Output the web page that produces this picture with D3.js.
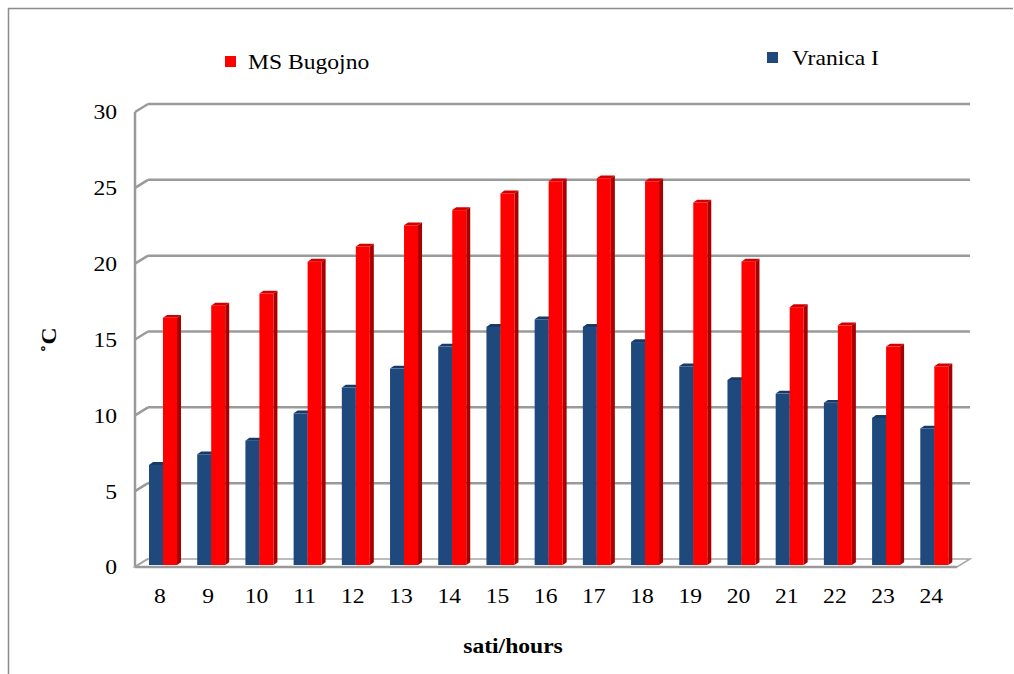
<!DOCTYPE html>
<html>
<head>
<meta charset="utf-8">
<script src="https://cdn.jsdelivr.net/npm/d3@7"></script>
<style>
  html, body { margin: 0; padding: 0; background: #fff; }
  svg { display: block; }
</style>
</head>
<body>
<svg id="chart" width="1014" height="674"></svg>
<script>
// Hourly air temperature (°C) at two stations
const hours = ["8","9","10","11","12","13","14","15","16","17","18","19","20","21","22","23","24"];
const msBugojno = [16.3, 17.1, 17.9, 20.0, 21.0, 22.4, 23.4, 24.5, 25.3, 25.5, 25.3, 23.9, 20.0, 17.0, 15.8, 14.4, 13.1];
const vranica   = [6.6, 7.3, 8.2, 10.0, 11.7, 12.95, 14.4, 15.7, 16.2, 15.7, 14.7, 13.1, 12.2, 11.3, 10.7, 9.7, 9.0];
const yTicks = [0, 5, 10, 15, 20, 25, 30];
const seriesNames = ["MS Bugojno", "Vranica I"];

const svg = d3.select("#chart");
const STRETCH = 1.18;
const SERIF = "'Liberation Serif', 'Times New Roman', Times, serif";

// text helper: glyphs are drawn slightly wide
function label(parent, x, y, str, opts = {}) {
  const g = parent.append("g").attr("transform", `translate(${x},${y}) ${opts.rotate ? `rotate(${opts.rotate})` : ""} scale(${STRETCH},1)`);
  return g.append("text")
    .attr("text-anchor", opts.anchor || "middle")
    .attr("dominant-baseline", "central")
    .attr("font-family", SERIF)
    .style("font-family", SERIF)
    .style("font-size", (opts.size || 20) + "px")
    .style("font-weight", opts.bold ? "bold" : "normal")
    .attr("fill", "#000")
    .text(str);
}

// outer frame
svg.append("path")
  .attr("d", "M8.5,674 L8.5,8.5 L1013,8.5")
  .attr("fill", "none").attr("stroke", "#8c8c8c").attr("stroke-width", 1.5);

// oblique depth of the plot box
const DX = 13, DY = -8;
const yBack = d3.scaleLinear().domain([0, 30]).range([559, 104]);
const xLeft = 135, xRight = 957;

const grid = svg.append("g");
yTicks.forEach(t => {
  const yb = yBack(t);
  if (t > 0) {
    grid.append("line").attr("x1", xLeft + DX).attr("y1", yb).attr("x2", xRight + DX).attr("y2", yb)
      .attr("stroke", "#9a9a9a").attr("stroke-width", 2.5);
  }
  grid.append("line").attr("x1", xLeft).attr("y1", yb - DY).attr("x2", xLeft + DX).attr("y2", yb)
    .attr("stroke", "#9a9a9a").attr("stroke-width", 2.5);
});
// left wall edge
grid.append("line").attr("x1", xLeft).attr("y1", yBack(30) - DY).attr("x2", xLeft).attr("y2", yBack(0) - DY)
  .attr("stroke", "#9a9a9a").attr("stroke-width", 2.5);
// floor
grid.append("path")
  .attr("d", `M${xLeft},${yBack(0) - DY} L${xRight},${yBack(0) - DY} L${xRight + DX},${yBack(0)} L${xLeft + DX},${yBack(0)} Z`)
  .attr("fill", "#ffffff").attr("stroke", "#a6a6a6").attr("stroke-width", 1.5);
grid.append("line").attr("x1", xLeft).attr("y1", yBack(0) - DY).attr("x2", xRight).attr("y2", yBack(0) - DY)
  .attr("stroke", "#9a9a9a").attr("stroke-width", 2.5);

// y tick labels (at front edge)
yTicks.forEach(t => label(svg, 117, yBack(t) - DY + 1, String(t), { anchor: "end" }));

// bars
const x = d3.scaleBand().domain(hours).range([138.9, 958.4]);
const yBar = d3.scaleLinear().domain([0, 30]).range([565, 565 - 455]);
const BW = 14, SX = 4, SY = -2.8;

const colors = {
  red:  { front: "#ff0000", side: "#a80000", top: "#d40000" },
  blue: { front: "#1f497d", side: "#142f52", top: "#183a66" }
};

function bar3d(g, x0, v, c) {
  const y0 = yBar(0), y1 = yBar(v);
  g.append("path").attr("d", `M${x0},${y1} L${x0 + SX},${y1 + SY} L${x0 + BW + SX},${y1 + SY} L${x0 + BW},${y1} Z`).attr("fill", c.top);
  g.append("path").attr("d", `M${x0 + BW},${y1} L${x0 + BW + SX},${y1 + SY} L${x0 + BW + SX},${y0 + SY} L${x0 + BW},${y0} Z`).attr("fill", c.side);
  g.append("rect").attr("x", x0).attr("y", y1).attr("width", BW).attr("height", y0 - y1).attr("fill", c.front);
}

const bars = svg.append("g");
hours.forEach((h, i) => {
  const cx = x(h) + x.bandwidth() / 2;
  bar3d(bars, cx - BW, vranica[i], colors.blue);
  bar3d(bars, cx, msBugojno[i], colors.red);
});

// x labels
hours.forEach(h => label(svg, x(h) + x.bandwidth() / 2 - 3, 597, h));

// axis titles
label(svg, 513, 647, "sati/hours", { bold: true });
label(svg, 50, 340, "˚C", { bold: true, rotate: -90 });

// legend
svg.append("rect").attr("x", 225).attr("y", 56).attr("width", 11).attr("height", 11).attr("fill", colors.red.front);
label(svg, 248, 63, seriesNames[0], { anchor: "start" });
svg.append("rect").attr("x", 767).attr("y", 52).attr("width", 11).attr("height", 11).attr("fill", colors.blue.front);
label(svg, 792, 59, seriesNames[1], { anchor: "start" });
</script>
</body>
</html>
